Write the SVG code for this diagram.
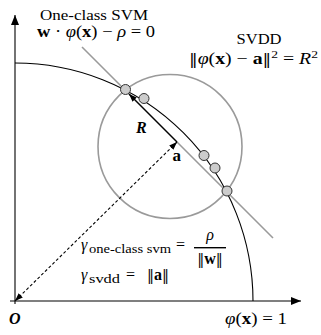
<svg xmlns="http://www.w3.org/2000/svg" width="321" height="335" viewBox="0 0 321 335">
<style>
.t{font-family:"Liberation Serif","Times New Roman",serif;fill:#000}
.n{font-family:"DejaVu Serif",serif;font-weight:normal;font-style:normal;font-size:14px}
.b{font-weight:bold}
.i{font-style:italic}
.gray{fill:none;stroke:#9a9a9a;stroke-width:1.6}
.blk{fill:none;stroke:#000;stroke-width:1.1}
.pt{fill:#cccccc;stroke:#333;stroke-width:1}
</style>
<defs>
<marker id="ax" viewBox="0 0 10 8" refX="10" refY="4" markerWidth="10" markerHeight="8" markerUnits="userSpaceOnUse" orient="auto-start-reverse"><path d="M0,0 L10,4 L0,8 Z" fill="#000"/></marker>
<marker id="ar" viewBox="0 0 8 6" refX="8" refY="3" markerWidth="8" markerHeight="6" markerUnits="userSpaceOnUse" orient="auto-start-reverse"><path d="M0,0 L8,3 L0,6 Z" fill="#000"/></marker>
</defs>
<rect width="321" height="335" fill="#fff"/>
<g id="axes">
<path class="blk" d="M15,304 L15,15" marker-end="url(#ax)"/>
<path class="blk" d="M10,301 L301,301" marker-end="url(#ax)"/>
</g>
<g id="hyperplane"><path class="gray" d="M82,47 L273,238"/></g>
<g id="sphere"><circle class="gray" cx="170" cy="146.5" r="72"/></g>
<g id="boundary"><path class="blk" d="M15,63 A238,238 0 0 1 253,301"/></g>
<g id="points">
<circle class="pt" cx="125.5" cy="89.5" r="5"/>
<circle class="pt" cx="144" cy="98.5" r="5"/>
<circle class="pt" cx="204" cy="155.5" r="5"/>
<circle class="pt" cx="215" cy="168" r="5"/>
<circle class="pt" cx="227" cy="191" r="5"/>
</g>
<g id="connectors">
<path class="blk" d="M177,142 L129,94" marker-end="url(#ar)"/>
<path class="blk" d="M177,142 L15,301" stroke-dasharray="3,2.2" marker-start="url(#ar)" marker-end="url(#ar)"/>
</g>
<g id="label-ocsvm">
<text class="t" x="94" y="20" font-size="15.5" text-anchor="middle" textLength="108" lengthAdjust="spacingAndGlyphs">One-class SVM</text>
<text class="t" x="37" y="37" font-size="16" textLength="118" lengthAdjust="spacingAndGlyphs"><tspan class="b">w</tspan> · <tspan class="i">φ</tspan>(<tspan class="b">x</tspan>) − <tspan class="i">ρ</tspan> = 0</text>
</g>
<g id="label-svdd">
<text class="t" x="259" y="44" font-size="15.5" text-anchor="middle" textLength="45" lengthAdjust="spacingAndGlyphs">SVDD</text>
<text class="t" x="189" y="64" font-size="16" textLength="129" lengthAdjust="spacingAndGlyphs"><tspan class="n">‖</tspan><tspan class="i">φ</tspan>(<tspan class="b">x</tspan>) − <tspan class="b">a</tspan><tspan class="n">‖</tspan><tspan font-size="11" dy="-6">2</tspan><tspan dy="6"> = </tspan><tspan class="i">R</tspan><tspan font-size="11" dy="-6">2</tspan></text>
</g>
<g id="label-R"><text class="t b i" x="136" y="133" font-size="16">R</text></g>
<g id="label-a"><text class="t b" x="172.5" y="161" font-size="17">a</text></g>
<g id="label-gamma-ocsvm">
<text class="t i" x="81" y="250" font-size="16">γ</text>
<text class="t" x="89" y="253" font-size="11.5" textLength="82" lengthAdjust="spacingAndGlyphs">one-class svm</text>
<text class="t" x="176" y="250" font-size="16">=</text>
<text class="t i" x="210" y="240" font-size="16" text-anchor="middle">ρ</text>
<line x1="194" y1="247.7" x2="226" y2="247.7" stroke="#000" stroke-width="1.4"/>
<text class="t" x="210" y="264" font-size="16" text-anchor="middle"><tspan class="n">‖</tspan><tspan class="b">w</tspan><tspan class="n">‖</tspan></text>
</g>
<g id="label-gamma-svdd">
<text class="t i" x="81" y="280" font-size="16">γ</text>
<text class="t" x="89" y="283" font-size="11.5" textLength="31" lengthAdjust="spacingAndGlyphs">svdd</text>
<text class="t" x="126" y="280" font-size="16">=</text>
<text class="t" x="147" y="280" font-size="16"><tspan class="n">‖</tspan><tspan class="b">a</tspan><tspan class="n">‖</tspan></text>
</g>
<g id="label-phi"><text class="t" x="225" y="324" font-size="16" textLength="62" lengthAdjust="spacingAndGlyphs"><tspan class="i">φ</tspan>(<tspan class="b">x</tspan>) = 1</text></g>
<g id="label-O"><text class="t b i" x="9" y="324" font-size="16">O</text></g>
</svg>
